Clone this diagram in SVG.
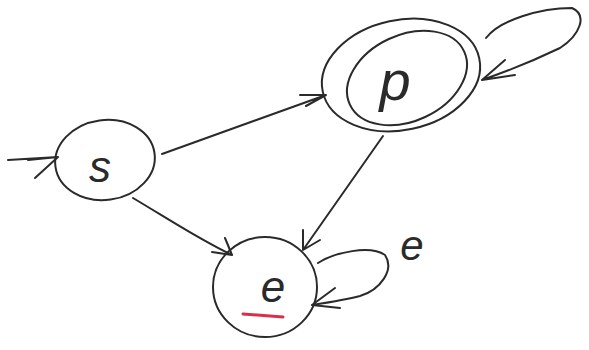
<svg xmlns="http://www.w3.org/2000/svg" width="589" height="350" viewBox="0 0 589 350">
<style>
.ln{fill:none;stroke:#2a2a2a;stroke-width:2;stroke-linecap:round;stroke-linejoin:round}
.lb{font-family:"Liberation Sans",Arial,sans-serif;fill:#2a2a2a;font-style:italic}
</style>
<rect width="589" height="350" fill="#ffffff"/>
<g id="connectors">
  <path class="ln" d="M8 160 L58 157 M35 178 L58 157 L28 160"/>
  <path class="ln" d="M162 154 L326 95 M300 95 L326 95 L306 106"/>
  <path class="ln" d="M133 198 C170 220 200 240 232 255 M212 252 L232 255 L225 238"/>
  <path class="ln" d="M383 136 L303 250 M303 230 L303 250 L320 240"/>
  <path class="ln" d="M486 38 C500 20 540 8 572 8 C588 15 580 35 560 48 C535 60 505 72 482 80 M505 60 L482 80 L515 75"/>
  <path class="ln" d="M318 263 C335 252 370 245 385 255 C395 270 380 290 360 296 C345 300 325 303 312 305 M335 288 L312 305 L340 308"/>
</g>
<g id="s">
  <ellipse class="ln" cx="105" cy="160" rx="50" ry="40" transform="rotate(-8 105 160)"/>
  <text class="lb" x="100" y="182" font-size="44" text-anchor="middle">s</text>
</g>
<g id="p">
  <ellipse class="ln" cx="401" cy="75" rx="80" ry="55" transform="rotate(-12 401 75)"/>
  <ellipse class="ln" cx="407" cy="78" rx="63" ry="43" transform="rotate(-25 407 78)"/>
  <text class="lb" x="395" y="100" font-size="56" text-anchor="middle">p</text>
</g>
<g id="e">
  <ellipse class="ln" cx="265" cy="287" rx="52" ry="50"/>
  <text class="lb" x="273" y="302" font-size="44" text-anchor="middle">e</text>
  <path d="M243 314 L283 317" stroke="#d8304a" stroke-width="3" stroke-linecap="round" fill="none"/>
</g>
<text class="lb" x="412" y="260" font-size="42" text-anchor="middle">e</text>
</svg>
